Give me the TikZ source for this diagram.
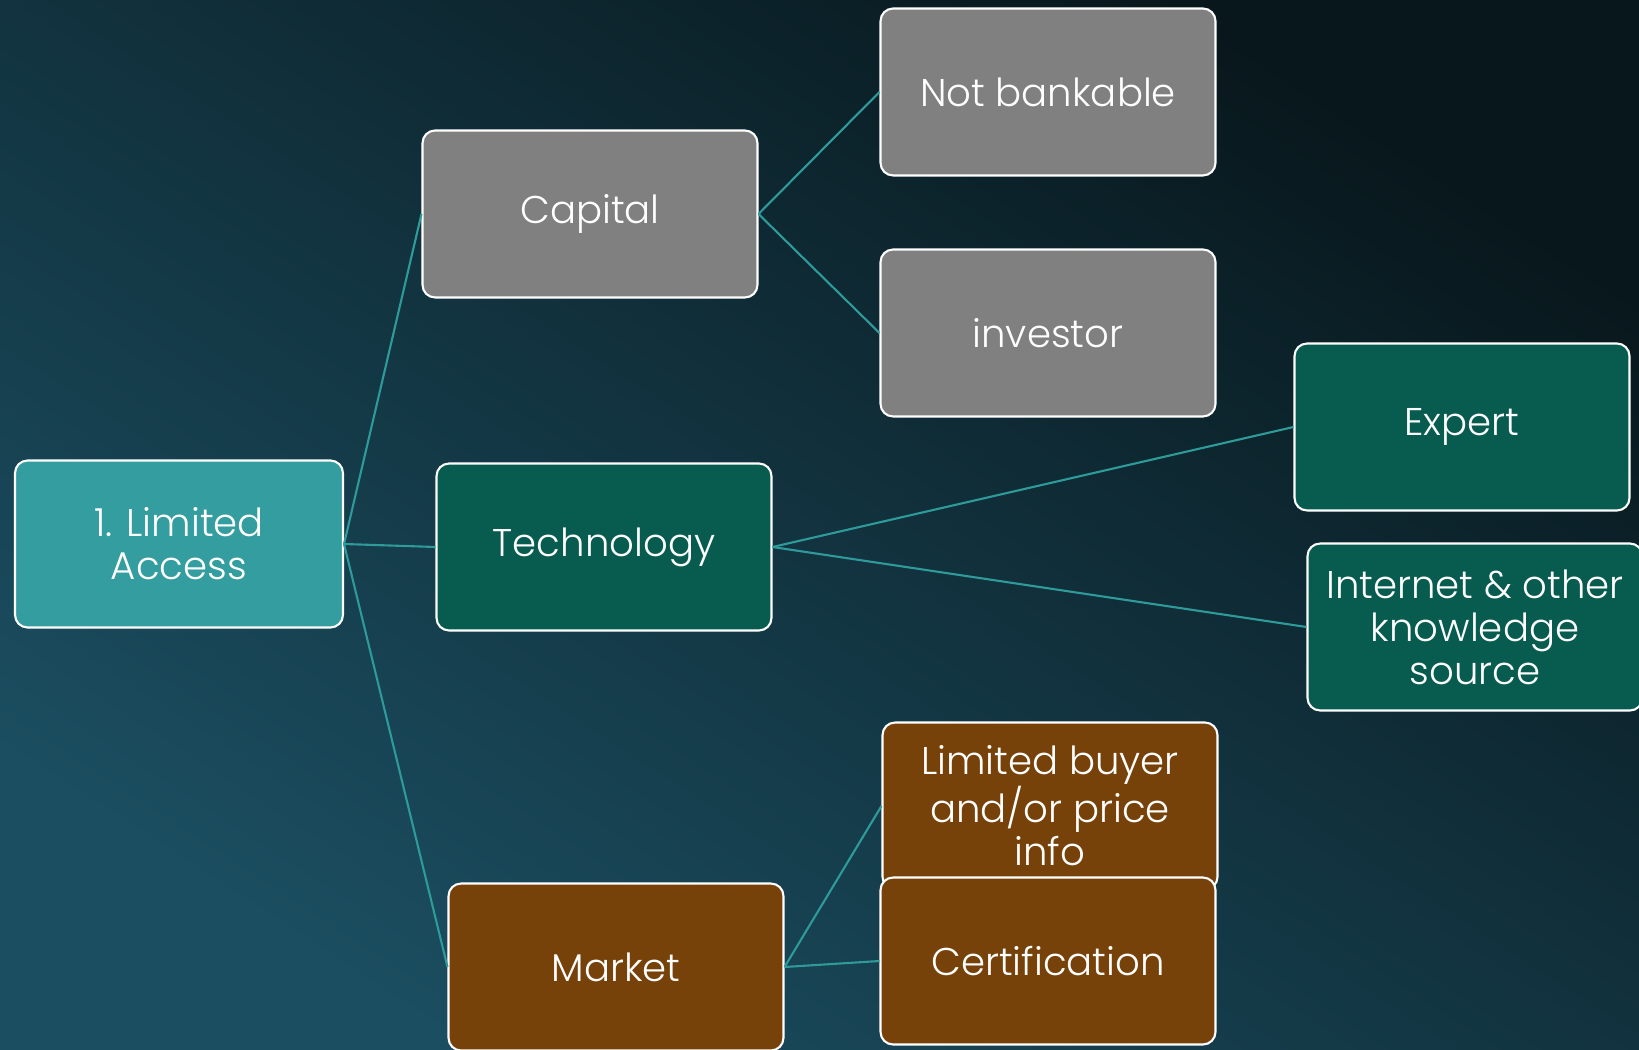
\documentclass[tikz,border=0pt]{standalone}
\usepackage{fontspec}
\setmainfont{Poppins Light}
\definecolor{rootteal}{HTML}{349D9F}
\definecolor{techgreen}{HTML}{075C4F}
\definecolor{capgray}{HTML}{808080}
\definecolor{mktbrown}{HTML}{77420A}
\definecolor{linkteal}{HTML}{2E9A9A}
\definecolor{bgdark}{HTML}{08171C}
\definecolor{bgmid}{HTML}{11394A}
\definecolor{bglight}{HTML}{1B4E61}

\begin{document}
\begin{tikzpicture}[x=0.02cm,y=-0.02cm,
    box/.style={draw=white,line width=1.2pt,rounded corners=0.25cm,
        minimum width=6.7cm,minimum height=3.34cm,inner sep=0pt,
        align=center,text=white,font=\fontsize{22}{24.5}\selectfont},
    link/.style={linkteal,line width=1.2pt}]
    \clip (0,0) rectangle (1639,1050);
    \shade[top color=bgdark,middle color=bgmid,bottom color=bglight,shading angle=-33] (0,0) rectangle (1639,1050);

    % boxes
    \node[box,fill=rootteal,minimum width=6.56cm] (limited) at (179,544) {1. Limited\\Access};
    \node[box,fill=capgray] (capital) at (590,214) {Capital};
    \node[box,fill=capgray] (bankable) at (1048,92) {Not bankable};
    \node[box,fill=capgray] (investor) at (1048,333) {investor};
    \node[box,fill=techgreen] (technology) at (604,547) {Technology};
    \node[box,fill=techgreen] (expert) at (1462,427) {Expert};
    \node[box,fill=techgreen] (internet) at (1475,627) {Internet \& other\\knowledge\\source};
    \node[box,fill=mktbrown] (buyer) at (1050,806) {Limited buyer\\and/or price\\info};
    \node[box,fill=mktbrown] (certification) at (1048,961) {Certification};
    \node[box,fill=mktbrown] (market) at (616,967) {Market};

    % links
    \foreach \t in {capital,technology,market}{
        \draw[link] (limited.east) -- (\t.west);
    }
    \draw[link] (capital.east) -- (bankable.west);
    \draw[link] (capital.east) -- (investor.west);
    \draw[link] (technology.east) -- (expert.west);
    \draw[link] (technology.east) -- (internet.west);
    \draw[link] (market.east) -- (buyer.west);
    \draw[link] (market.east) -- (certification.west);
\end{tikzpicture}
\end{document}
